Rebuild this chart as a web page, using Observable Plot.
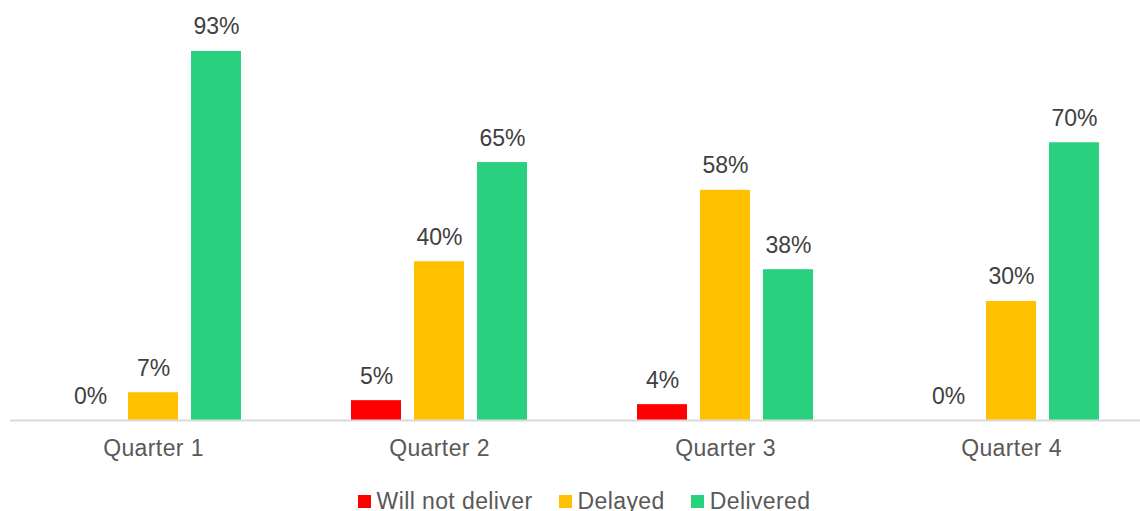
<!DOCTYPE html>
<html>
<head>
<meta charset="utf-8">
<script src="https://cdn.jsdelivr.net/npm/d3@7"></script>
<script src="https://cdn.jsdelivr.net/npm/@observablehq/plot@0.6"></script>
<style>
  html, body { margin: 0; padding: 0; background: #fff; }
  body { width: 1140px; height: 511px; overflow: hidden; font-family: "Liberation Sans", Arial, sans-serif; }
  #legend { display: flex; justify-content: center; align-items: center; padding-left: 28px; height: 31px; margin-top: 6px; }
  .item { display: flex; align-items: center; margin: 0 13px; color: #595959; font-size: 23px; letter-spacing: 0.4px; }
  .sw { width: 13px; height: 13px; margin-right: 6px; }
</style>
</head>
<body>
<div id="chart"></div>
<div id="legend"></div>
<script>
const quarters = ["Quarter 1", "Quarter 2", "Quarter 3", "Quarter 4"];
const series = ["Will not deliver", "Delayed", "Delivered"];
const colors = ["#ff0000", "#ffc000", "#29d17f"];
const willNotDeliver = [0, 5, 4, 0];
const delayed = [7, 40, 58, 30];
const delivered = [93, 65, 38, 70];

const values = [willNotDeliver, delayed, delivered];
const data = [];
series.forEach((s, si) => quarters.forEach((q, qi) => data.push({quarter: q, series: s, value: values[si][qi]})));

// bar placement within each quarter band (band = 286px)
const layout = {
  "Will not deliver": {insetLeft: 55, insetRight: 181, dx: -63},
  "Delayed": {insetLeft: 118, insetRight: 118, dx: 0},
  "Delivered": {insetLeft: 181, insetRight: 55, dx: 63}
};

const marks = [];
series.forEach((s, si) => {
  const d = data.filter(r => r.series === s);
  marks.push(Plot.barY(d, {x: "quarter", y: "value", fill: colors[si],
    insetLeft: layout[s].insetLeft, insetRight: layout[s].insetRight}));
});
marks.push(Plot.ruleY([0], {stroke: "#d9d9d9", strokeWidth: 2}));
series.forEach((s, si) => {
  const d = data.filter(r => r.series === s);
  marks.push(Plot.text(d, {x: "quarter", y: "value", text: r => r.value + "%",
    dx: layout[s].dx, dy: -17, lineAnchor: "bottom", fontSize: 23, fill: "#404040"}));
});
marks.push(Plot.axisX({tickSize: 0, tickPadding: 19, fontSize: 23, fill: "#595959"}));

const chart = Plot.plot({
  width: 1140,
  height: 480,
  marginLeft: 10,
  marginRight: 0,
  marginTop: 0,
  marginBottom: 60,
  style: {fontFamily: "'Liberation Sans', Arial, sans-serif", background: "#fff", overflow: "visible"},
  x: {domain: quarters, range: [10, 1154], padding: 0, label: null, axis: null},
  y: {domain: [0, 100], range: [420, 23.2], axis: null},
  marks
});
document.getElementById("chart").appendChild(chart);
chart.querySelectorAll("g[aria-label='x-axis tick label'] text").forEach(t => t.style.letterSpacing = "0.4px");

const legend = document.getElementById("legend");
series.forEach((s, si) => {
  const it = document.createElement("div");
  it.className = "item";
  const sw = document.createElement("span");
  sw.className = "sw";
  sw.style.background = colors[si];
  it.appendChild(sw);
  it.appendChild(document.createTextNode(s));
  legend.appendChild(it);
});
</script>
</body>
</html>
